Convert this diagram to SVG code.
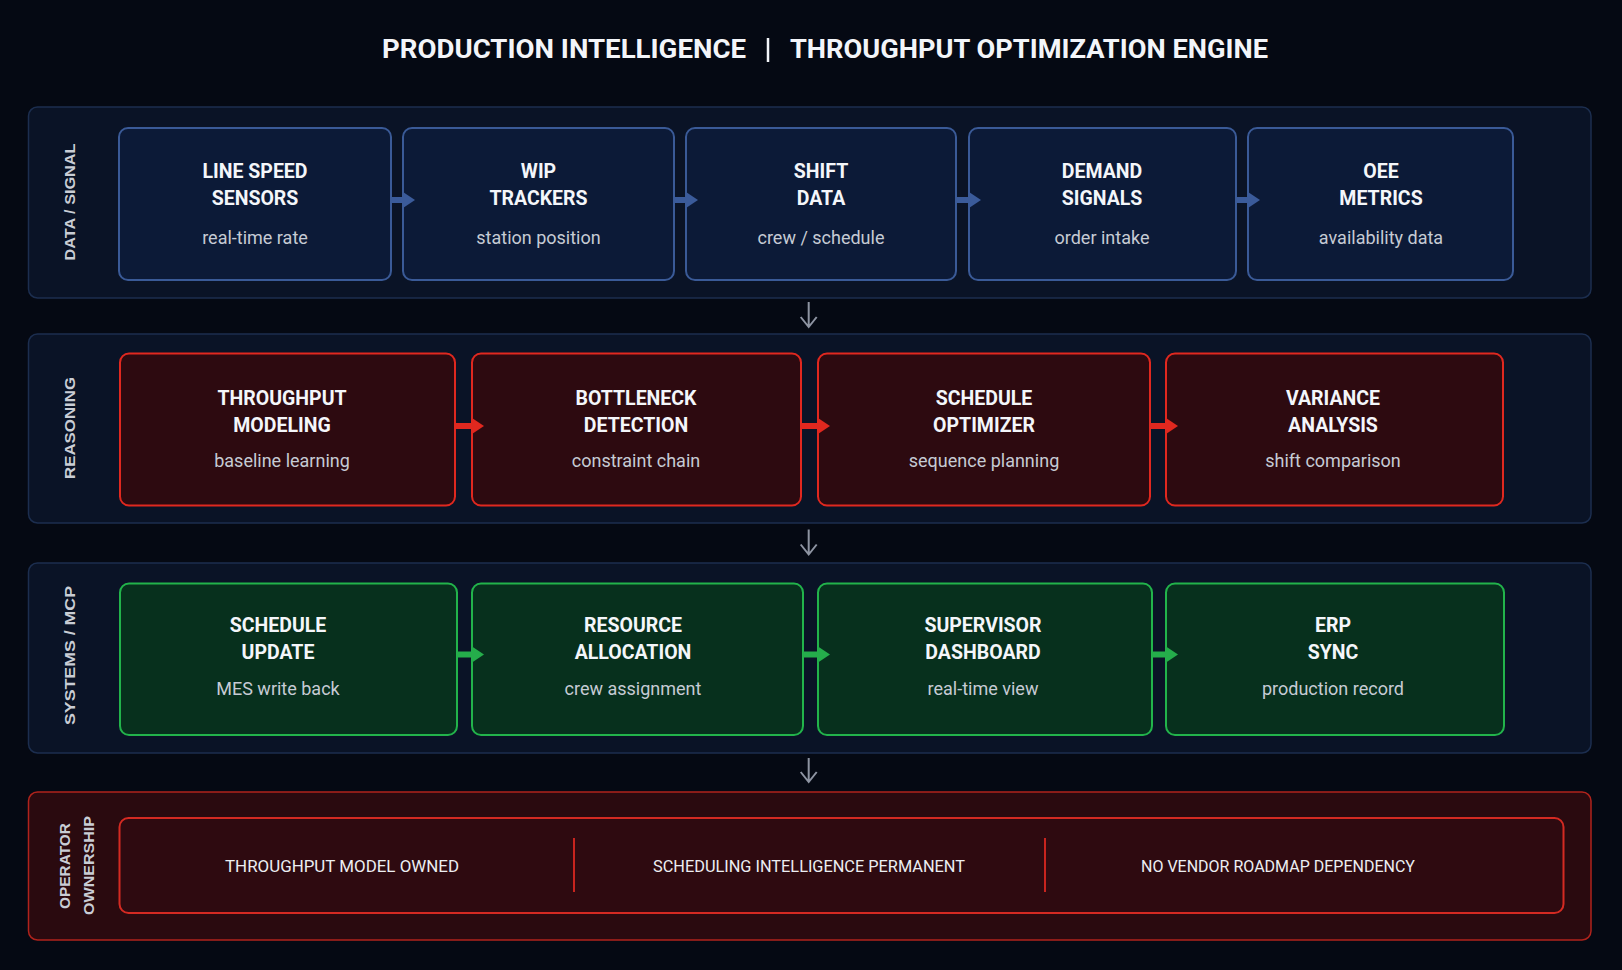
<svg xmlns="http://www.w3.org/2000/svg" width="1622" height="970" viewBox="0 0 1622 970">
<defs>
<style>
.bg{fill:#050913}
.lane{fill:#0a1326;stroke:#1c2e4f;stroke-width:1.5}
.lane-red{fill:#2a0a0f;stroke:#b0231c;stroke-width:1.5}
.lbl{font-family:"Liberation Sans",Arial,sans-serif;font-weight:700;font-size:15px;fill:#c9cdd5;text-anchor:middle}
.title{font-family:Roboto,"Liberation Sans",sans-serif;font-weight:700;font-size:26px;fill:#f3f5f9}
.nb{fill:#0c1a37;stroke:#3a5a97;stroke-width:2}
.nr{fill:#2d0a10;stroke:#e0281f;stroke-width:2}
.ng{fill:#07301d;stroke:#22b34b;stroke-width:2}
.h{font-family:Roboto,"Liberation Sans",sans-serif;font-weight:700;font-size:19.5px;fill:#f4f6fa;text-anchor:middle}
.s{font-family:Roboto,"Liberation Sans",sans-serif;font-weight:400;font-size:18px;fill:#c6cbd4;text-anchor:middle}
.own{font-family:Roboto,"Liberation Sans",sans-serif;font-weight:400;font-size:17px;fill:#eceef2;text-anchor:middle}
.cb{stroke:#3b5b9a;stroke-width:6;fill:none}
.cr{stroke:#e0281f;stroke-width:6;fill:none}
.cg{stroke:#25ad4b;stroke-width:6;fill:none}
.down{stroke:#8e94a2;stroke-width:2;fill:none}
</style>
<marker id="ab" viewBox="0 0 12 16" refX="0" refY="8" markerWidth="12" markerHeight="16" markerUnits="userSpaceOnUse" orient="auto"><path d="M0,0 L12,8 L0,16 Z" fill="#3b5b9a"/></marker>
<marker id="ar" viewBox="0 0 12 16" refX="0" refY="8" markerWidth="12" markerHeight="16" markerUnits="userSpaceOnUse" orient="auto"><path d="M0,0 L12,8 L0,16 Z" fill="#e0281f"/></marker>
<marker id="ag" viewBox="0 0 12 16" refX="0" refY="8" markerWidth="12" markerHeight="16" markerUnits="userSpaceOnUse" orient="auto"><path d="M0,0 L12,8 L0,16 Z" fill="#25ad4b"/></marker>
</defs>
<rect class="bg" x="0" y="0" width="1622" height="970"/>

<g id="title">
<text class="title" x="382" y="58" textLength="364" lengthAdjust="spacingAndGlyphs">PRODUCTION INTELLIGENCE</text>
<line x1="768" y1="38" x2="768" y2="62" stroke="#f3f5f9" stroke-width="2.5"/>
<text class="title" x="790" y="58" textLength="478" lengthAdjust="spacingAndGlyphs">THROUGHPUT OPTIMIZATION ENGINE</text>
</g>

<g id="lane-data">
<rect class="lane" x="28.5" y="107" width="1562.5" height="191" rx="9"/>
<text class="lbl" transform="translate(68.5,202) rotate(-90)" x="0" y="6" textLength="117" lengthAdjust="spacingAndGlyphs">DATA / SIGNAL</text>
</g>
<g id="lane-reasoning">
<rect class="lane" x="28.5" y="334" width="1562.5" height="189" rx="9"/>
<text class="lbl" transform="translate(68.5,428) rotate(-90)" x="0" y="6" textLength="102" lengthAdjust="spacingAndGlyphs">REASONING</text>
</g>
<g id="lane-systems">
<rect class="lane" x="28.5" y="563" width="1562.5" height="190" rx="9"/>
<text class="lbl" transform="translate(68.5,655.5) rotate(-90)" x="0" y="6" textLength="139" lengthAdjust="spacingAndGlyphs">SYSTEMS / MCP</text>
</g>
<g id="lane-ownership">
<rect class="lane-red" x="28.5" y="792" width="1562.5" height="148" rx="9"/>
<text class="lbl" transform="translate(63.6,866) rotate(-90)" x="0" y="6" textLength="86" lengthAdjust="spacingAndGlyphs">OPERATOR</text>
<text class="lbl" transform="translate(88,865.5) rotate(-90)" x="0" y="6" textLength="99" lengthAdjust="spacingAndGlyphs">OWNERSHIP</text>
</g>

<g id="n-line-speed"><rect class="nb" x="119" y="128" width="272" height="152" rx="9"/>
<text class="h" x="255" y="178">LINE SPEED</text><text class="h" x="255" y="205">SENSORS</text><text class="s" x="255" y="244">real-time rate</text></g>
<g id="n-wip"><rect class="nb" x="403" y="128" width="271" height="152" rx="9"/>
<text class="h" x="538.5" y="178">WIP</text><text class="h" x="538.5" y="205">TRACKERS</text><text class="s" x="538.5" y="244">station position</text></g>
<g id="n-shift"><rect class="nb" x="686" y="128" width="270" height="152" rx="9"/>
<text class="h" x="821" y="178">SHIFT</text><text class="h" x="821" y="205">DATA</text><text class="s" x="821" y="244">crew / schedule</text></g>
<g id="n-demand"><rect class="nb" x="969" y="128" width="267" height="152" rx="9"/>
<text class="h" x="1102" y="178">DEMAND</text><text class="h" x="1102" y="205">SIGNALS</text><text class="s" x="1102" y="244">order intake</text></g>
<g id="n-oee"><rect class="nb" x="1248" y="128" width="265" height="152" rx="9"/>
<text class="h" x="1381" y="178">OEE</text><text class="h" x="1381" y="205">METRICS</text><text class="s" x="1381" y="244">availability data</text></g>

<g id="n-throughput"><rect class="nr" x="120" y="353.5" width="335" height="152" rx="9"/>
<text class="h" x="282" y="405">THROUGHPUT</text><text class="h" x="282" y="431.5">MODELING</text><text class="s" x="282" y="466.5">baseline learning</text></g>
<g id="n-bottleneck"><rect class="nr" x="472" y="353.5" width="329" height="152" rx="9"/>
<text class="h" x="636" y="405">BOTTLENECK</text><text class="h" x="636" y="431.5">DETECTION</text><text class="s" x="636" y="466.5">constraint chain</text></g>
<g id="n-schedule-opt"><rect class="nr" x="818" y="353.5" width="332" height="152" rx="9"/>
<text class="h" x="984" y="405">SCHEDULE</text><text class="h" x="984" y="431.5">OPTIMIZER</text><text class="s" x="984" y="466.5">sequence planning</text></g>
<g id="n-variance"><rect class="nr" x="1166" y="353.5" width="337" height="152" rx="9"/>
<text class="h" x="1333" y="405">VARIANCE</text><text class="h" x="1333" y="431.5">ANALYSIS</text><text class="s" x="1333" y="466.5">shift comparison</text></g>

<g id="n-schedule-update"><rect class="ng" x="120" y="583.5" width="337" height="151.5" rx="9"/>
<text class="h" x="278" y="631.5">SCHEDULE</text><text class="h" x="278" y="659">UPDATE</text><text class="s" x="278" y="695">MES write back</text></g>
<g id="n-resource"><rect class="ng" x="472" y="583.5" width="331" height="151.5" rx="9"/>
<text class="h" x="633" y="631.5">RESOURCE</text><text class="h" x="633" y="659">ALLOCATION</text><text class="s" x="633" y="695">crew assignment</text></g>
<g id="n-supervisor"><rect class="ng" x="818" y="583.5" width="334" height="151.5" rx="9"/>
<text class="h" x="983" y="631.5">SUPERVISOR</text><text class="h" x="983" y="659">DASHBOARD</text><text class="s" x="983" y="695">real-time view</text></g>
<g id="n-erp"><rect class="ng" x="1166" y="583.5" width="338" height="151.5" rx="9"/>
<text class="h" x="1333" y="631.5">ERP</text><text class="h" x="1333" y="659">SYNC</text><text class="s" x="1333" y="695">production record</text></g>

<g id="n-ownership">
<rect x="119.5" y="818" width="1444" height="95" rx="9" fill="#2e0a10" stroke="#d42a22" stroke-width="2"/>
<line x1="574" y1="838" x2="574" y2="892" stroke="#c8241e" stroke-width="2"/>
<line x1="1045" y1="838" x2="1045" y2="892" stroke="#c8241e" stroke-width="2"/>
<text class="own" x="342" y="872" textLength="234" lengthAdjust="spacingAndGlyphs">THROUGHPUT MODEL OWNED</text>
<text class="own" x="809" y="872" textLength="312" lengthAdjust="spacingAndGlyphs">SCHEDULING INTELLIGENCE PERMANENT</text>
<text class="own" x="1278" y="872" textLength="274" lengthAdjust="spacingAndGlyphs">NO VENDOR ROADMAP DEPENDENCY</text>
</g>

<g id="connectors">
<line class="cb" x1="391" y1="200" x2="403" y2="200" marker-end="url(#ab)"/>
<line class="cb" x1="674" y1="200" x2="686" y2="200" marker-end="url(#ab)"/>
<line class="cb" x1="956" y1="200" x2="969" y2="200" marker-end="url(#ab)"/>
<line class="cb" x1="1236" y1="200" x2="1248" y2="200" marker-end="url(#ab)"/>
<line class="cr" x1="455" y1="426" x2="472" y2="426" marker-end="url(#ar)"/>
<line class="cr" x1="801" y1="426" x2="818" y2="426" marker-end="url(#ar)"/>
<line class="cr" x1="1150" y1="426" x2="1166" y2="426" marker-end="url(#ar)"/>
<line class="cg" x1="457" y1="654.5" x2="472" y2="654.5" marker-end="url(#ag)"/>
<line class="cg" x1="803" y1="654.5" x2="818" y2="654.5" marker-end="url(#ag)"/>
<line class="cg" x1="1152" y1="654.5" x2="1166" y2="654.5" marker-end="url(#ag)"/>
<path class="down" d="M808.7,302 V327 M800.7,317 L808.7,327 L816.7,317"/>
<path class="down" d="M808.7,529.5 V554.5 M800.7,544.5 L808.7,554.5 L816.7,544.5"/>
<path class="down" d="M808.7,758 V782 M800.7,772 L808.7,782 L816.7,772"/>
</g>
</svg>
